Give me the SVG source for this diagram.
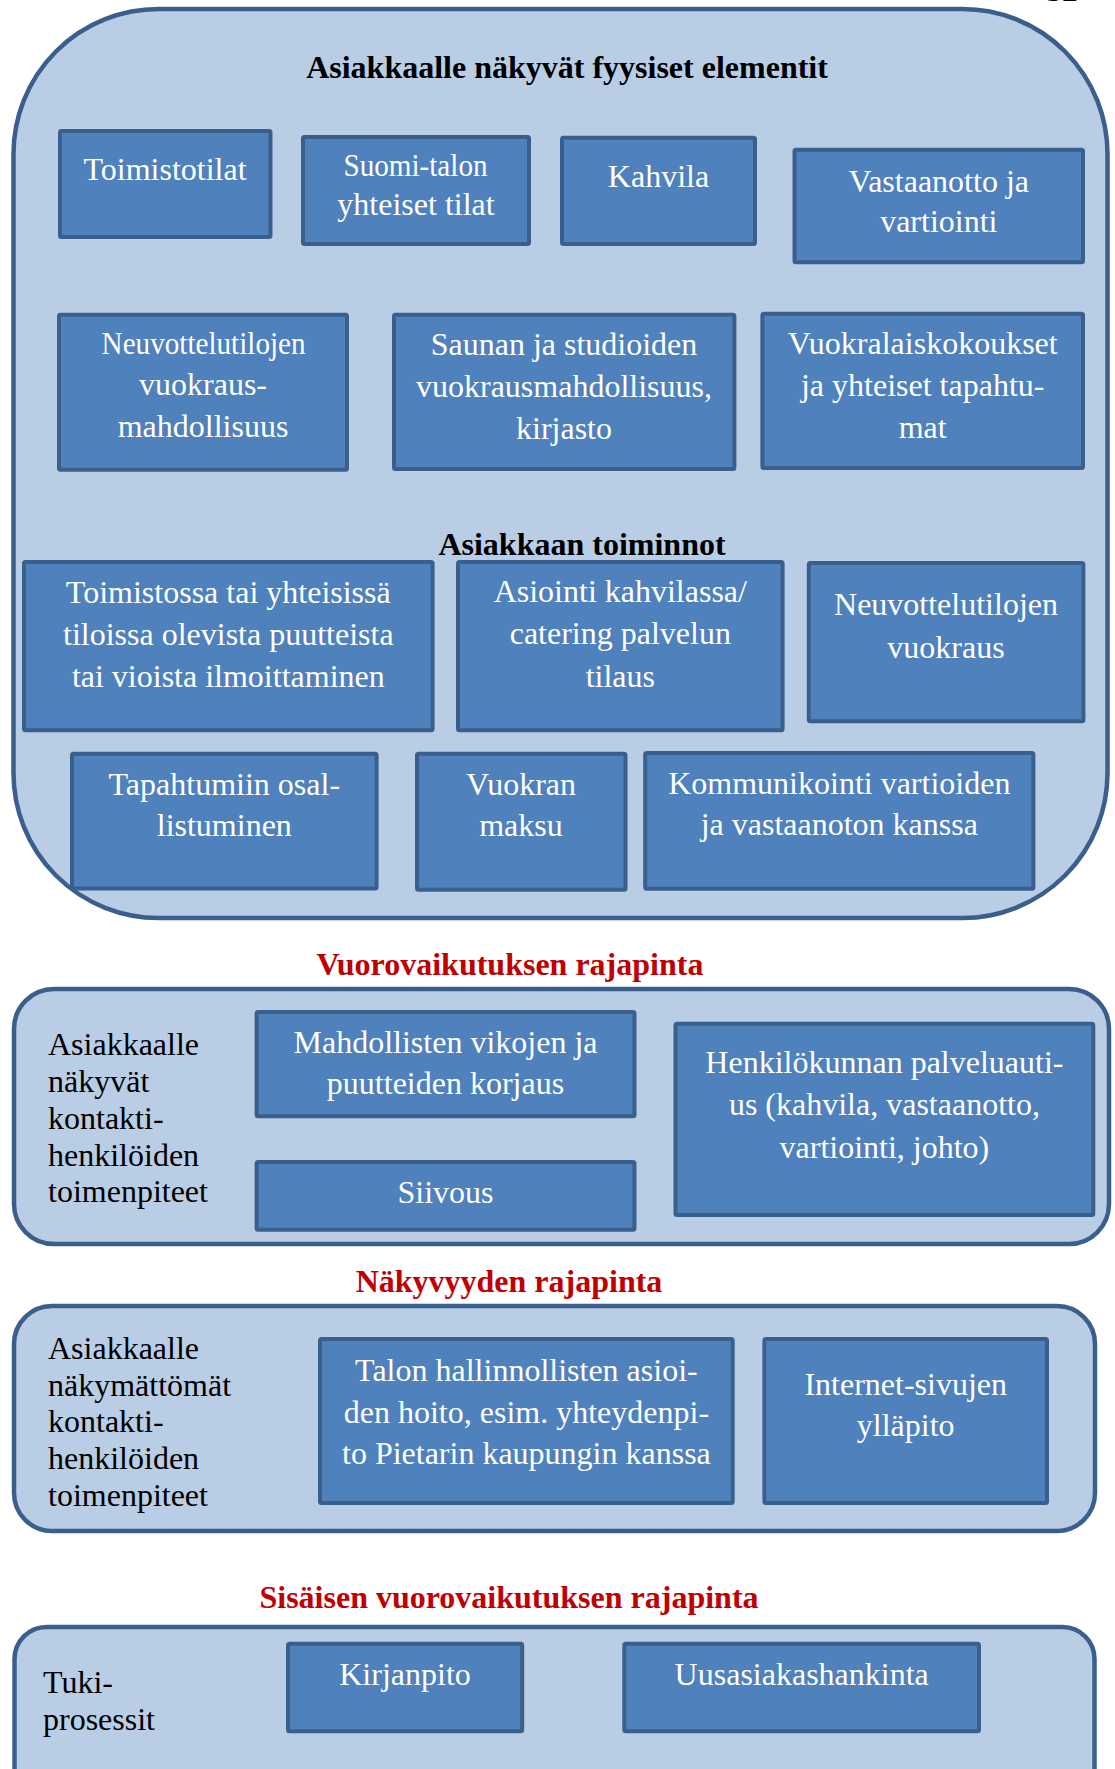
<svg xmlns="http://www.w3.org/2000/svg" width="1115" height="1769" viewBox="0 0 1115 1769">
  <style>
    .panel { fill: #B9CDE5; stroke: #3A5F8D; stroke-width: 4.5; }
    .box { fill: #4F81BD; stroke: #3A5F8D; stroke-width: 4; }
    .t { font-family: "Liberation Serif", "Times New Roman", serif; font-size: 32px; }
    .bt { fill: #FFFFFF; text-anchor: middle; }
    .lbl { fill: #000000; }
    .head { fill: #000000; font-weight: bold; text-anchor: middle; }
    .red { fill: #C00000; font-weight: bold; text-anchor: middle; }
  </style>

  <rect width="1115" height="1769" fill="#FFFFFF"/>

  <!-- page number at the top edge -->
  <text class="t lbl" x="1046" y="1">32</text>

  <!-- containers -->
  <g id="panel-physical">
    <rect class="panel" x="13.5" y="9" width="1094" height="909" rx="145" ry="145"/>
    <text class="t head" x="567" y="78">Asiakkaalle näkyvät fyysiset elementit</text>
    <text class="t head" x="582" y="555">Asiakkaan toiminnot</text>
  </g>

  <g id="heading-interaction">
    <text class="t red" x="510" y="975">Vuorovaikutuksen rajapinta</text>
  </g>
  <g id="panel-visible">
    <rect class="panel" x="14" y="989" width="1095" height="255" rx="40" ry="40"/>
    <text class="t lbl">
      <tspan x="48" y="1055">Asiakkaalle</tspan>
      <tspan x="48" y="1092">näkyvät</tspan>
      <tspan x="48" y="1129">kontakti-</tspan>
      <tspan x="48" y="1165.5">henkilöiden</tspan>
      <tspan x="48" y="1202">toimenpiteet</tspan>
    </text>
  </g>

  <g id="heading-visibility">
    <text class="t red" x="509" y="1292">Näkyvyyden rajapinta</text>
  </g>
  <g id="panel-invisible">
    <rect class="panel" x="14" y="1306" width="1081" height="225" rx="38" ry="38"/>
    <text class="t lbl">
      <tspan x="48" y="1358.5">Asiakkaalle</tspan>
      <tspan x="48" y="1395.5">näkymättömät</tspan>
      <tspan x="48" y="1432">kontakti-</tspan>
      <tspan x="48" y="1468.5">henkilöiden</tspan>
      <tspan x="48" y="1505.5">toimenpiteet</tspan>
    </text>
  </g>

  <g id="heading-internal">
    <text class="t red" x="509" y="1608">Sisäisen vuorovaikutuksen rajapinta</text>
  </g>
  <g id="panel-support">
    <rect class="panel" x="14.5" y="1627" width="1080" height="200" rx="32" ry="32"/>
    <text class="t lbl">
      <tspan x="43" y="1693">Tuki-</tspan>
      <tspan x="43" y="1730">prosessit</tspan>
    </text>
  </g>

  <!-- physical elements -->
  <g id="toimistotilat">
    <rect class="box" x="60" y="131" width="210.5" height="106" rx="1.5"/>
    <text class="t bt" x="165" y="180">Toimistotilat</text>
  </g>
  <g id="suomi-talon">
    <rect class="box" x="303" y="137" width="226" height="107" rx="1.5"/>
    <text class="t bt" x="415.5" y="175.5" textLength="144" lengthAdjust="spacingAndGlyphs">Suomi-talon</text>
    <text class="t bt" x="416" y="215">yhteiset tilat</text>
  </g>
  <g id="kahvila">
    <rect class="box" x="562" y="137.7" width="193" height="106.3" rx="1.5"/>
    <text class="t bt" x="658.5" y="187">Kahvila</text>
  </g>
  <g id="vastaanotto">
    <rect class="box" x="794.5" y="149.7" width="288.5" height="112.6" rx="1.5"/>
    <text class="t bt"><tspan x="938.8" y="192">Vastaanotto ja</tspan><tspan x="938.8" y="232">vartiointi</tspan></text>
  </g>
  <g id="neuvottelutilat">
    <rect class="box" x="59" y="314.7" width="288" height="155" rx="1.5"/>
    <text class="t bt" x="203.6" y="353.5" textLength="204" lengthAdjust="spacingAndGlyphs">Neuvottelutilojen</text>
    <text class="t bt"><tspan x="203" y="395">vuokraus-</tspan><tspan x="203" y="437">mahdollisuus</tspan></text>
  </g>
  <g id="sauna">
    <rect class="box" x="394" y="314.7" width="340.4" height="154.3" rx="1.5"/>
    <text class="t bt"><tspan x="564" y="355">Saunan ja studioiden</tspan><tspan x="564" y="397">vuokrausmahdollisuus,</tspan><tspan x="564" y="439">kirjasto</tspan></text>
  </g>
  <g id="vuokralaiskokoukset">
    <rect class="box" x="762.4" y="313.7" width="320.6" height="154.3" rx="1.5"/>
    <text class="t bt"><tspan x="922.7" y="354">Vuokralaiskokoukset</tspan><tspan x="922.7" y="396">ja yhteiset tapahtu-</tspan><tspan x="922.7" y="438">mat</tspan></text>
  </g>

  <!-- customer actions -->
  <g id="ilmoittaminen">
    <rect class="box" x="24" y="562" width="408.6" height="168.3" rx="1.5"/>
    <text class="t bt"><tspan x="228.3" y="603">Toimistossa tai yhteisissä</tspan><tspan x="228.3" y="645">tiloissa olevista puutteista</tspan><tspan x="228.3" y="687">tai vioista ilmoittaminen</tspan></text>
  </g>
  <g id="asiointi">
    <rect class="box" x="458" y="562" width="324.6" height="168.3" rx="1.5"/>
    <text class="t bt"><tspan x="620.3" y="602">Asiointi kahvilassa/</tspan><tspan x="620.3" y="644">catering palvelun</tspan><tspan x="620.3" y="686.5">tilaus</tspan></text>
  </g>
  <g id="neuvottelutilojen-vuokraus">
    <rect class="box" x="808.8" y="563" width="274.6" height="158.3" rx="1.5"/>
    <text class="t bt"><tspan x="946" y="615">Neuvottelutilojen</tspan><tspan x="946" y="658">vuokraus</tspan></text>
  </g>
  <g id="tapahtumat">
    <rect class="box" x="72" y="753.7" width="304.6" height="134.8" rx="1.5"/>
    <text class="t bt"><tspan x="224.3" y="794.5">Tapahtumiin osal-</tspan><tspan x="224.3" y="836">listuminen</tspan></text>
  </g>
  <g id="vuokran-maksu">
    <rect class="box" x="417" y="753.7" width="208.5" height="136" rx="1.5"/>
    <text class="t bt"><tspan x="521" y="794.5">Vuokran</tspan><tspan x="521" y="836">maksu</tspan></text>
  </g>
  <g id="kommunikointi">
    <rect class="box" x="645.2" y="753" width="388.2" height="135.7" rx="1.5"/>
    <text class="t bt"><tspan x="839.3" y="794">Kommunikointi vartioiden</tspan><tspan x="839.3" y="835">ja vastaanoton kanssa</tspan></text>
  </g>

  <!-- visible contact staff -->
  <g id="korjaus">
    <rect class="box" x="256.6" y="1012" width="377.9" height="104.3" rx="1.5"/>
    <text class="t bt"><tspan x="445.5" y="1052.5">Mahdollisten vikojen ja</tspan><tspan x="445.5" y="1094">puutteiden korjaus</tspan></text>
  </g>
  <g id="siivous">
    <rect class="box" x="256.6" y="1162" width="377.9" height="67.7" rx="1.5"/>
    <text class="t bt" x="445.5" y="1202.5">Siivous</text>
  </g>
  <g id="palveluautius">
    <rect class="box" x="675.5" y="1023.7" width="417.8" height="191.3" rx="1.5"/>
    <text class="t bt"><tspan x="884.4" y="1072.5">Henkilökunnan palveluauti-</tspan><tspan x="884.4" y="1115">us (kahvila, vastaanotto,</tspan><tspan x="884.4" y="1157.5">vartiointi, johto)</tspan></text>
  </g>

  <!-- invisible contact staff -->
  <g id="hallinto">
    <rect class="box" x="320" y="1339" width="412.7" height="164" rx="1.5"/>
    <text class="t bt"><tspan x="526.4" y="1381">Talon hallinnollisten asioi-</tspan><tspan x="526.4" y="1422.5">den hoito, esim. yhteydenpi-</tspan><tspan x="526.4" y="1464">to Pietarin kaupungin kanssa</tspan></text>
  </g>
  <g id="internet">
    <rect class="box" x="764.4" y="1339" width="282.6" height="164" rx="1.5"/>
    <text class="t bt"><tspan x="905.7" y="1394.5">Internet-sivujen</tspan><tspan x="905.7" y="1436">ylläpito</tspan></text>
  </g>

  <!-- support processes -->
  <g id="kirjanpito">
    <rect class="box" x="288" y="1643.7" width="234.2" height="87.6" rx="1.5"/>
    <text class="t bt" x="405" y="1685">Kirjanpito</text>
  </g>
  <g id="uusasiakashankinta">
    <rect class="box" x="624.3" y="1643.7" width="354.7" height="87.6" rx="1.5"/>
    <text class="t bt" x="801.7" y="1685">Uusasiakashankinta</text>
  </g>

  <!-- no connectors in this chart -->
  <g id="connectors"/>
</svg>
